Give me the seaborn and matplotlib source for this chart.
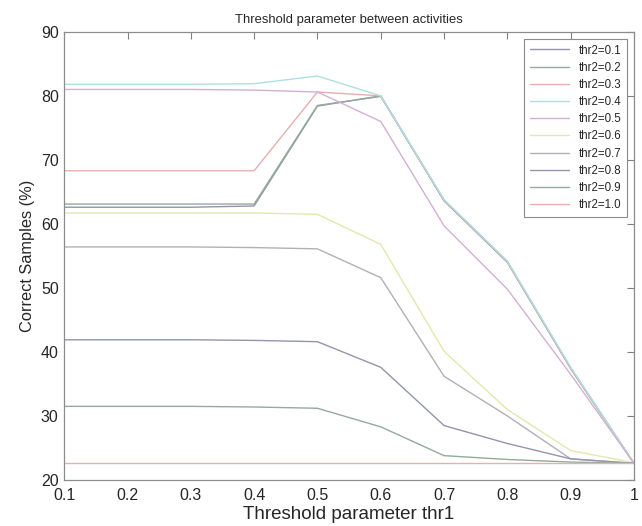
import pandas as pd
import matplotlib
matplotlib.use("Agg")
import matplotlib.pyplot as plt
import seaborn as sns

# thr1 values on the x axis
thr1 = [0.1, 0.2, 0.3, 0.4, 0.5, 0.6, 0.7, 0.8, 0.9, 1.0]

# Correct samples (%) for each thr2 setting
thr2_01 = [62.6, 62.6, 62.6, 62.8, 78.4, 80.0, 63.6, 54.0, 37.4, 22.6]
thr2_02 = [63.1, 63.1, 63.1, 63.1, 78.5, 79.9, 63.7, 54.1, 37.5, 22.6]
thr2_03 = [68.3, 68.3, 68.3, 68.3, 80.6, 80.0, 63.7, 54.1, 37.5, 22.6]
thr2_04 = [81.8, 81.8, 81.8, 81.9, 83.1, 80.0, 63.8, 54.2, 37.6, 22.6]
thr2_05 = [81.0, 81.0, 81.0, 80.9, 80.6, 76.0, 59.7, 49.8, 36.5, 22.6]
thr2_06 = [61.7, 61.7, 61.7, 61.7, 61.5, 56.8, 40.1, 31.0, 24.6, 22.7]
thr2_07 = [56.4, 56.4, 56.4, 56.3, 56.1, 51.6, 36.2, 30.0, 23.3, 22.6]
thr2_08 = [41.9, 41.9, 41.9, 41.8, 41.6, 37.6, 28.5, 25.7, 23.3, 22.6]
thr2_09 = [31.5, 31.5, 31.5, 31.4, 31.2, 28.3, 23.8, 23.2, 22.8, 22.6]
thr2_10 = [22.6, 22.6, 22.6, 22.6, 22.6, 22.6, 22.6, 22.6, 22.6, 22.6]

labels = ["thr2=0.1", "thr2=0.2", "thr2=0.3", "thr2=0.4", "thr2=0.5",
          "thr2=0.6", "thr2=0.7", "thr2=0.8", "thr2=0.9", "thr2=1.0"]
series = [thr2_01, thr2_02, thr2_03, thr2_04, thr2_05,
          thr2_06, thr2_07, thr2_08, thr2_09, thr2_10]

colors = ["#9494ac", "#93ab9b", "#e4b0b0", "#aee0e0", "#d3b0d3",
          "#e6e6b0", "#b0b0ba", "#9494ac", "#93ab9b", "#e4b0b0"]

rows = []
for lab, vals in zip(labels, series):
    for x, y in zip(thr1, vals):
        rows.append({"thr1": x, "correct": y, "thr2": lab})
df = pd.DataFrame(rows)

sns.set_style("white")
plt.rcParams["font.family"] = ["Liberation Sans", "DejaVu Sans"]

fig = plt.figure(figsize=(6.42, 5.26), dpi=100)
ax = fig.add_axes([0.1, 0.0875, 0.8875, 0.852])

sns.lineplot(data=df, x="thr1", y="correct", hue="thr2", hue_order=labels,
             palette=colors, linewidth=1.0, ax=ax, legend=True)

ax.set_xlim(0.1, 1.0)
ax.set_ylim(20, 90)
ax.set_xticks(thr1)
ax.set_xticklabels(["0.1", "0.2", "0.3", "0.4", "0.5", "0.6", "0.7", "0.8", "0.9", "1"])
ax.set_yticks(range(20, 91, 10))
ax.tick_params(direction="in", length=5, width=0.8, color="#808080",
               labelsize=11.5, top=True, right=True)
ax.tick_params(axis="x", pad=6)
ax.tick_params(axis="y", pad=4)
for s in ax.spines.values():
    s.set_color("#8c8c8c")
    s.set_linewidth(0.9)

ax.set_title("Threshold parameter between activities", fontsize=9.4, pad=6)
ax.set_xlabel("Threshold parameter thr1", fontsize=13.5, labelpad=2)
ax.set_ylabel("Correct Samples (%)", fontsize=11.8, labelpad=4)

leg = ax.legend(loc="upper right", fontsize=8.3, frameon=True, fancybox=False,
                edgecolor="#8c8c8c", framealpha=1, handlelength=3.4,
                labelspacing=0.45, borderpad=0.5, borderaxespad=0.6)
leg.get_frame().set_linewidth(0.8)
for line in leg.get_lines():
    line.set_linewidth(1.0)

fig.savefig("out.png", dpi=100)
